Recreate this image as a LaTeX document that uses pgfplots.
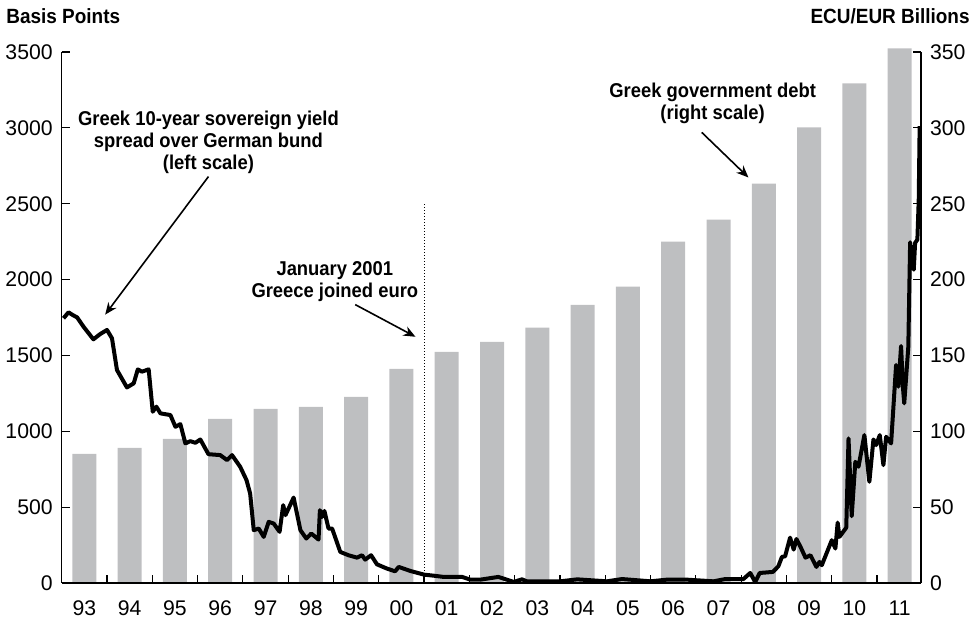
\documentclass[border=0pt]{standalone}
\usepackage{fontspec}
\setmainfont{Liberation Sans}[BoldFeatures={FakeStretch=0.92}]
\usepackage{pgfplots}
\pgfplotsset{compat=1.18}
\usetikzlibrary{arrows.meta}
\definecolor{bargray}{RGB}{190,191,193}
\begin{document}
\begin{tikzpicture}
\pgfplotsset{common/.style={
 scale only axis, width=429.65pt, height=265.5pt,
 at={(0,0)}, anchor=south west,
 xmin=1993.0, xmax=2011.97,
 tick align=inside, major tick length=4pt,
 tick style={black, line width=0.6pt},
 axis line style={line width=0.6pt},
 tick label style={font=\fontsize{10.6}{12}\selectfont},
 /pgf/number format/assume math mode=true,
 /pgf/number format/set thousands separator={},
}}
\begin{axis}[common, axis y line*=right, axis x line=none, ymin=0, ymax=350,
  ytick={0,50,...,350}, clip=false, yticklabel style={xshift=1pt}]
\addplot[ybar, bar width=0.53, fill=bargray, draw=none] coordinates {
(1993.5,85.1) (1994.5,89.1) (1995.5,95) (1996.5,108.2) (1997.5,114.8)
(1998.5,116.1) (1999.5,122.7) (2000.5,141.2) (2001.5,152.4) (2002.5,159)
(2003.5,168.3) (2004.5,183.4) (2005.5,195.3) (2006.5,225) (2007.5,239.5)
(2008.5,263.3) (2009.5,300.3) (2010.5,329.3) (2011.5,352.4)};
\end{axis}
\begin{axis}[common, axis y line*=left, axis x line*=bottom, ymin=0, ymax=3500,
  ytick={0,500,...,3500}, clip=false, yticklabel style={xshift=-1pt},
  xtick={1994,1995,...,2011}, xticklabels={},
  extra x ticks={1993.5,1994.5,1995.5,1996.5,1997.5,1998.5,1999.5,2000.5,2001.5,2002.5,2003.5,2004.5,2005.5,2006.5,2007.5,2008.5,2009.5,2010.5,2011.5},
  extra x tick labels={93,94,95,96,97,98,99,00,01,02,03,04,05,06,07,08,09,10,11},
  extra x tick style={major tick length=0pt, tick label style={yshift=-5.5pt}}]
\draw[densely dotted, line width=0.5pt] (axis cs:2001.0,0) -- (axis cs:2001.0,2508);
\addplot[black, line width=2pt, line join=round] coordinates {
(1993.04,1745) (1993.15,1784) (1993.25,1765) (1993.34,1751) (1993.48,1690)
(1993.70,1606) (1993.85,1641) (1994.00,1668) (1994.11,1613) (1994.22,1404)
(1994.44,1289) (1994.59,1316) (1994.68,1408) (1994.77,1393) (1994.92,1408)
(1995.01,1129) (1995.09,1162) (1995.18,1118) (1995.40,1107) (1995.51,1030)
(1995.62,1047) (1995.73,920) (1995.84,935) (1995.95,924) (1996.06,946)
(1996.24,849) (1996.50,843) (1996.65,810) (1996.76,843) (1996.94,766)
(1997.08,678) (1997.16,590) (1997.24,348) (1997.35,359) (1997.46,304)
(1997.57,403) (1997.68,392) (1997.81,337) (1997.89,513) (1997.94,447)
(1998.12,563) (1998.27,348) (1998.40,293) (1998.51,326) (1998.67,286)
(1998.70,480) (1998.75,436) (1998.80,475) (1998.89,359) (1998.97,359)
(1999.15,205) (1999.33,183) (1999.52,167) (1999.63,183) (1999.70,154)
(1999.83,183) (1999.96,123) (2000.18,95) (2000.36,77) (2000.44,106)
(2000.70,79) (2001.00,55) (2001.22,48) (2001.43,40) (2001.84,40)
(2002.02,22) (2002.24,22) (2002.64,40) (2002.98,7) (2003.16,24)
(2003.27,11) (2004.01,11) (2004.38,24) (2005.04,11) (2005.37,26)
(2006.00,11) (2006.36,22) (2006.80,22) (2007.39,11) (2007.65,26)
(2008.05,26) (2008.20,66) (2008.31,7) (2008.41,66) (2008.70,73)
(2008.82,110) (2008.90,172) (2008.97,176) (2009.08,299) (2009.16,220)
(2009.22,290) (2009.31,238) (2009.42,167) (2009.53,183) (2009.66,106)
(2009.73,139) (2009.78,117) (2010.00,282) (2010.08,227) (2010.13,398)
(2010.17,304) (2010.32,365) (2010.37,953) (2010.44,440) (2010.52,799)
(2010.59,766) (2010.72,975) (2010.83,667) (2010.92,946) (2010.98,909)
(2011.06,975) (2011.14,777) (2011.20,964) (2011.31,920) (2011.42,1437)
(2011.47,1294) (2011.53,1562) (2011.57,1294) (2011.60,1184) (2011.69,1558)
(2011.73,2246) (2011.81,2065) (2011.84,2242) (2011.89,2263) (2011.92,2527)
(2011.94,3011)};
% annotations
\node[align=center, font=\fontsize{10}{10.8}\selectfont\bfseries] at (axis cs:1996.24,2904)
  {Greek 10-year sovereign yield\\spread over German bund\\(left scale)};
\draw[-{Stealth[length=6pt,width=5pt]}, line width=0.8pt] (axis cs:1996.24,2679) -- (axis cs:1993.96,1769);
\node[align=center, font=\fontsize{10}{10.8}\selectfont\bfseries] at (axis cs:1999.03,1987)
  {January 2001\\Greece joined euro};
\draw[-{Stealth[length=6pt,width=5pt]}, line width=0.8pt] (axis cs:1999.48,1835) -- (axis cs:2000.81,1623);
\node[align=center, font=\fontsize{10}{10.8}\selectfont\bfseries] at (axis cs:2007.37,3161)
  {Greek government debt\\(right scale)};
\draw[-{Stealth[length=6pt,width=5pt]}, line width=0.8pt] (axis cs:2007.13,2970) -- (axis cs:2008.16,2673);
\node[anchor=base west, inner sep=0pt, font=\fontsize{10.3}{12}\selectfont\bfseries] at (rel axis cs:-0.0648,1.0546) {Basis Points};
\node[anchor=base east, inner sep=0pt, font=\fontsize{10.3}{12}\selectfont\bfseries] at (rel axis cs:1.057,1.0546) {ECU/EUR Billions};
\end{axis}
\pgfresetboundingbox
\useasboundingbox (-30.85pt,-26.5pt) rectangle (457.15pt,291.5pt);
\end{tikzpicture}
\end{document}
